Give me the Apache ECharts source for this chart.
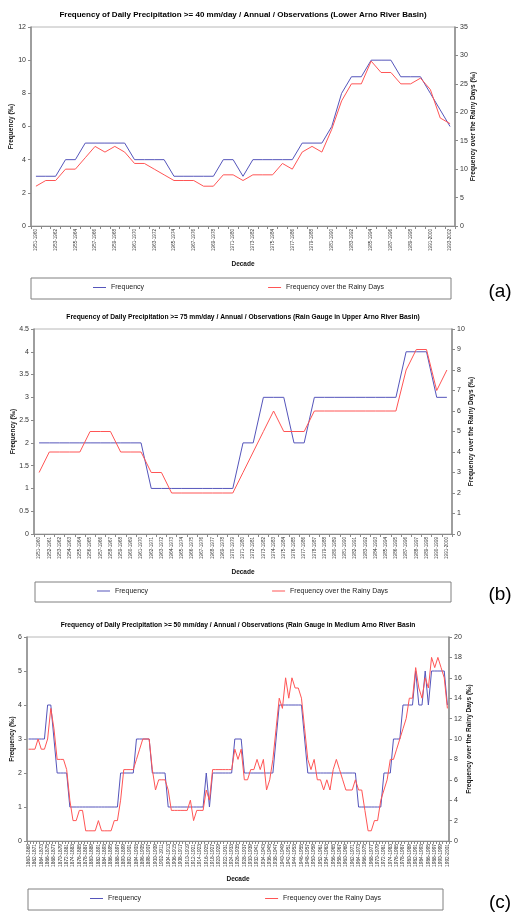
<!DOCTYPE html>
<html>
<head>
<meta charset="utf-8">
<script src="https://cdn.jsdelivr.net/npm/echarts@6/dist/echarts.min.js"></script>
<style>
  html, body { margin: 0; padding: 0; background: #fff; }
  #chart { width: 517px; height: 921px; }
</style>
</head>
<body>
<div id="chart"></div>
<script>
// decade labels, one per starting year
const yearCats = (first, last) => {
  const out = []
  for (let y = first; y <= last; y++) out.push(y + '-' + (y + 9))
  return out
}

// (a) lower Arno, >= 40 mm/day
const catsA = yearCats(1951, 1993)
const freqA = [3, 3, 3, 4, 4, 5, 5, 5, 5, 5, 4, 4, 4, 4, 3, 3, 3, 3, 3, 4, 4, 3, 4, 4, 4, 4, 4, 5, 5, 5, 6, 8, 9, 9, 10, 10, 10, 9, 9, 9, 8, 7, 6]
const rainyA = [7, 8, 8, 10, 10, 12, 14, 13, 14, 13, 11, 11, 10, 9, 8, 8, 8, 7, 7, 9, 9, 8, 9, 9, 9, 11, 10, 13, 14, 13, 17, 22, 25, 25, 29, 27, 27, 25, 25, 26, 24, 19, 18]
const leftA = [0, 12, 2]
const rightA = [0, 35, 5]

// (b) upper Arno gauge, >= 75 mm/day
const catsB = yearCats(1951, 1991)
const freqB = [2, 2, 2, 2, 2, 2, 2, 2, 2, 2, 2, 1, 1, 1, 1, 1, 1, 1, 1, 1, 2, 2, 3, 3, 3, 2, 2, 3, 3, 3, 3, 3, 3, 3, 3, 3, 4, 4, 4, 3, 3]
const rainyB = [3, 4, 4, 4, 4, 5, 5, 5, 4, 4, 4, 3, 3, 2, 2, 2, 2, 2, 2, 2, 3, 4, 5, 6, 5, 5, 5, 6, 6, 6, 6, 6, 6, 6, 6, 6, 8, 9, 9, 7, 8]
const leftB = [0, 4.5, 0.5]
const rightB = [0, 10, 1]

// (c) medium Arno gauge, >= 50 mm/day
const catsC = yearCats(1860, 1992)
const freqC = [
  3, 3, 3, 3, 3, 3, 4, 4, 3, 2,
  2, 2, 2, 1, 1, 1, 1, 1, 1, 1,
  1, 1, 1, 1, 1, 1, 1, 1, 1, 2,
  2, 2, 2, 2, 3, 3, 3, 3, 3, 2,
  2, 2, 2, 2, 1, 1, 1, 1, 1, 1,
  1, 1, 1, 1, 1, 1, 2, 1, 2, 2,
  2, 2, 2, 2, 2, 3, 3, 3, 2, 2,
  2, 2, 2, 2, 2, 2, 2, 2, 3, 4,
  4, 4, 4, 4, 4, 4, 4, 3, 2, 2,
  2, 2, 2, 2, 2, 2, 2, 2, 2, 2,
  2, 2, 2, 2, 1, 1, 1, 1, 1, 1,
  1, 1, 2, 2, 2, 3, 3, 3, 4, 4,
  4, 4, 5, 4, 4, 5, 4, 5, 5, 5,
  5, 5, 4
]
const rainyC = [
  9, 9, 9, 10, 9, 9, 10, 13, 11, 8,
  8, 8, 7, 4, 2, 2, 3, 3, 1, 1,
  1, 1, 2, 1, 1, 1, 1, 2, 2, 4,
  7, 7, 7, 7, 8, 9, 10, 10, 10, 7,
  5, 6, 6, 6, 5, 3, 3, 3, 3, 3,
  3, 4, 2, 3, 3, 3, 5, 4, 7, 7,
  7, 7, 7, 7, 7, 9, 8, 9, 6, 6,
  7, 7, 8, 7, 8, 5, 6, 8, 11, 14,
  13, 16, 14, 16, 15, 15, 14, 11, 8, 7,
  8, 6, 6, 5, 6, 5, 7, 8, 7, 6,
  5, 5, 5, 6, 5, 5, 3, 1, 1, 2,
  2, 4, 5, 6, 8, 8, 9, 10, 11, 12,
  14, 14, 17, 15, 14, 16, 15, 18, 17, 18,
  17, 16, 13
]
const leftC = [0, 6, 1]
const rightC = [0, 20, 2]

const titles = [
  'Frequency of Daily Precipitation >= 40 mm/day / Annual / Observations (Lower Arno River Basin)',
  'Frequency of Daily Precipitation >= 75 mm/day / Annual / Observations (Rain Gauge in Upper Arno River Basin)',
  'Frequency of Daily Precipitation >= 50 mm/day / Annual / Observations (Rain Gauge in Medium Arno River Basin'
]
const panelTags = ['(a)', '(b)', '(c)']
const seriesNames = ['Frequency', 'Frequency over the Rainy Days']

const FONT = 'Liberation Sans'
const BLUE = '#5555bb'
const RED = '#ff5555'
const AXIS = '#8a8a8a'

// plot boxes [left, top, width, height]
const boxes = [
  [31, 27, 424, 199],
  [34, 329, 418, 205],
  [27, 637, 422, 204]
]
const legendBoxes = [
  [31, 278, 420, 21],
  [35, 582, 416, 20],
  [28, 889, 415, 21]
]

const panels = [
  {cats: catsA, freq: freqA, rainy: rainyA, left: leftA, right: rightA, labelEvery: 1, xFont: 4.6, titleSize: 8, rightGap: 15, leftGap: 16},
  {cats: catsB, freq: freqB, rainy: rainyB, left: leftB, right: rightB, labelEvery: 0, xFont: 4.6, titleSize: 6.7, rightGap: 16, leftGap: 17},
  {cats: catsC, freq: freqC, rainy: rainyC, left: leftC, right: rightC, labelEvery: 1, xFont: 4.8, titleSize: 6.65, rightGap: 17, leftGap: 11}
]

const myChart = echarts.init(document.getElementById('chart'))

const grid = [], xAxis = [], yAxis = [], series = [], legend = [], graphic = []

panels.forEach((p, k) => {
  const [gl, gt, gw, gh] = boxes[k]
  grid.push({
    left: gl, top: gt, width: gw, height: gh,
    outerBoundsMode: 'none',
    show: true, borderColor: '#b8b8b8', borderWidth: 1, backgroundColor: '#fff'
  })
  xAxis.push({
    type: 'category',
    gridIndex: k,
    data: p.cats,
    boundaryGap: true,
    axisLine: {lineStyle: {color: AXIS, width: 1}},
    axisTick: {show: true, interval: 0, length: 3, lineStyle: {color: AXIS}},
    axisLabel: {
      interval: p.labelEvery, rotate: 90, margin: 3,
      fontSize: p.xFont, fontFamily: FONT, color: '#333'
    },
    name: 'Decade',
    nameLocation: 'middle',
    nameGap: 35,
    nameMoveOverlap: false,
    nameTextStyle: {fontFamily: FONT, fontWeight: 'bold', fontSize: 6.5, color: '#111'}
  })
  const yCommon = {
    type: 'value',
    gridIndex: k,
    axisLine: {show: true, lineStyle: {color: AXIS, width: 1.5}},
    axisTick: {show: true, length: 3, lineStyle: {color: AXIS}},
    splitLine: {show: false},
    axisLabel: {fontSize: 7, fontFamily: FONT, color: '#333', margin: 5},
    nameLocation: 'middle',
    nameRotate: 90,
    nameMoveOverlap: false,
    nameTextStyle: {fontFamily: FONT, fontWeight: 'bold', fontSize: 6.5, color: '#111'}
  }
  yAxis.push({
    ...yCommon,
    position: 'left',
    min: p.left[0], max: p.left[1], interval: p.left[2],
    name: 'Frequency (‰)',
    nameGap: p.leftGap
  })
  yAxis.push({
    ...yCommon,
    position: 'right',
    min: p.right[0], max: p.right[1], interval: p.right[2],
    name: 'Frequency over the Rainy Days (‰)',
    nameGap: p.rightGap
  })
  series.push({
    name: seriesNames[0], type: 'line', xAxisIndex: k, yAxisIndex: 2 * k,
    data: p.freq, symbol: 'none', lineStyle: {width: 1, color: BLUE}, itemStyle: {color: BLUE},
    animation: false
  })
  series.push({
    name: seriesNames[1], type: 'line', xAxisIndex: k, yAxisIndex: 2 * k + 1,
    data: p.rainy, symbol: 'none', lineStyle: {width: 1, color: RED}, itemStyle: {color: RED},
    animation: false
  })

  const [lx, ly, lw, lh] = legendBoxes[k]
  graphic.push({
    type: 'rect', z: 0,
    shape: {x: lx, y: ly, width: lw, height: lh},
    style: {fill: '#fff', stroke: '#808080', lineWidth: 1}
  })
  legend.push({
    data: seriesNames,
    left: lx + 62, top: ly + lh / 2 - 4.5,
    padding: 0,
    itemGap: 124,
    icon: 'rect', itemWidth: 13, itemHeight: 1,
    selectedMode: false,
    textStyle: {fontFamily: FONT, fontSize: 7, color: '#222'}
  })
  graphic.push({
    type: 'text',
    x: gl + gw / 2, y: gt - 12,
    style: {
      text: titles[k], font: 'bold ' + p.titleSize + 'px ' + FONT, fill: '#000',
      textAlign: 'center', textVerticalAlign: 'middle'
    }
  })
  graphic.push({
    type: 'text',
    x: 500, y: ly + lh / 2 + 3,
    style: {
      text: panelTags[k], font: '19px ' + FONT, fill: '#000',
      textAlign: 'center', textVerticalAlign: 'middle'
    }
  })
})

myChart.setOption({
  backgroundColor: '#fff',
  animation: false,
  grid, xAxis, yAxis, series, legend, graphic
})
</script>
</body>
</html>
